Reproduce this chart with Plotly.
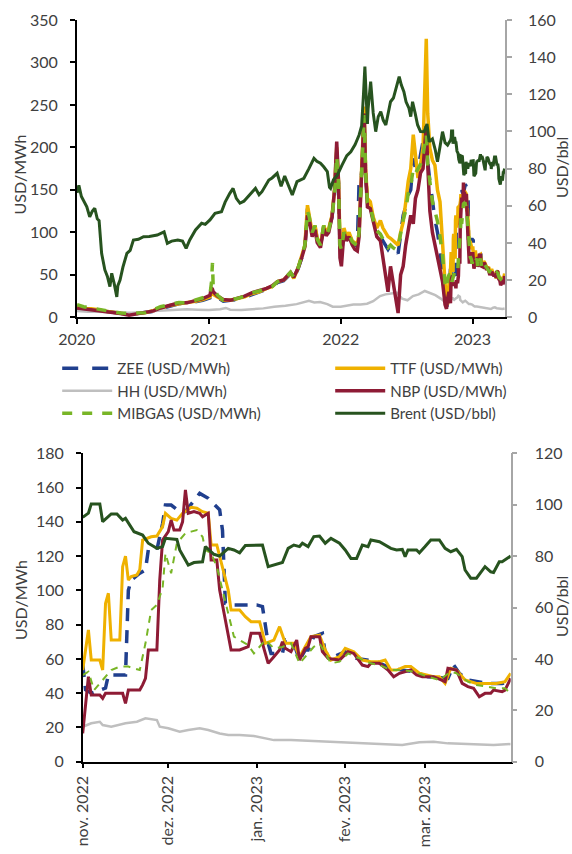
import plotly.graph_objects as go

# ---------------- Upper panel: Jan 2020 - Oct 2022 (daily prices, sampled) ----------------
top_gas_dates = [
    "2020-01-02", "2020-01-20", "2020-02-10", "2020-03-01", "2020-03-20", "2020-04-10",
    "2020-05-01", "2020-05-25", "2020-06-15", "2020-07-10", "2020-08-01", "2020-08-20",
    "2020-09-15", "2020-10-10", "2020-11-01", "2020-11-25", "2020-12-15",
    "2021-01-04", "2021-01-08", "2021-01-11", "2021-01-13", "2021-01-25", "2021-02-10",
    "2021-03-01", "2021-03-20", "2021-04-10", "2021-05-01", "2021-05-20", "2021-06-10",
    "2021-06-25", "2021-07-10", "2021-07-27", "2021-08-15", "2021-08-24", "2021-09-05",
    "2021-09-15", "2021-09-24", "2021-10-01", "2021-10-06", "2021-10-14", "2021-10-22",
    "2021-10-28", "2021-11-06", "2021-11-15", "2021-11-22", "2021-11-29", "2021-12-08",
    "2021-12-15", "2021-12-21", "2021-12-26", "2021-12-30",
    "2022-01-03", "2022-01-10", "2022-01-17", "2022-01-24", "2022-02-02", "2022-02-09",
    "2022-02-16", "2022-02-21", "2022-02-24", "2022-03-02", "2022-03-07", "2022-03-11",
    "2022-03-16", "2022-03-24", "2022-04-01", "2022-04-11", "2022-04-21", "2022-04-28",
    "2022-05-05", "2022-05-12", "2022-05-19", "2022-05-26", "2022-06-02", "2022-06-09",
    "2022-06-16", "2022-06-23", "2022-06-30", "2022-07-07", "2022-07-14", "2022-07-21",
    "2022-07-27", "2022-08-03", "2022-08-10", "2022-08-17", "2022-08-26", "2022-08-30",
    "2022-09-05", "2022-09-12", "2022-09-19", "2022-09-26", "2022-10-03", "2022-10-10",
    "2022-10-17", "2022-10-21", "2022-10-24", "2022-10-28",
]
zee_top = [
    11, 10, 9.5, 8.5, 7, 5.5, 5, 3.5, 4.5, 5.5, 7, 10, 13, 16, 16.5, 18.5, 20,
    23, 28, 27, 26, 23, 19, 20, 21, 23.5, 27, 30, 33, 35, 41, 43, 51, 46, 57,
    70, 82, 128, 115, 100, 106, 92, 84, 107, 100, 104, 118, 145, 195, 155, 85,
    75, 100, 92, 97, 88, 86, 83, 160, 140, 185, 235, 165, 140, 130, 115, 100,
    95, 90, 85, 80, 85, 83, 80, 75, 100, 120, 130, 144, 150, 187, 175, 175,
    191, 207, 218, 183, 160, 136, 115, 100, 80, 50, 18, 8.6, 20, 30,
]
ttf_top = [
    12, 10.5, 10, 9, 7, 6, 5, 3.5, 4.5, 5.5, 8, 11, 14, 16, 17, 19, 21,
    24, 30, 28, 27, 24, 20, 20, 22, 24, 28, 30, 34, 36, 42, 44, 52, 46, 58,
    72, 85, 132, 118, 100, 108, 93, 85, 108, 100, 105, 120, 150, 200, 160, 90,
    75, 105, 95, 100, 90, 88, 85, 100, 136, 195, 248, 175, 140, 136, 118, 105,
    114, 105, 100, 95, 93, 90, 88, 85, 100, 112, 135, 160, 175, 215, 191, 164,
    180, 199, 328, 240, 199, 185, 179, 150, 136, 81, 40, 22, 15, 40,
]
nbp_top = [
    11, 10, 9.5, 8.5, 6.5, 5.5, 4.5, 2.5, 4, 5, 7.5, 11, 14.5, 17, 17, 20, 22,
    26, 35, 33, 30, 25, 21, 20, 22, 25, 29, 31, 34, 37, 42, 44, 53, 47, 58,
    70, 83, 120, 115, 95, 103, 88, 82, 105, 96, 100, 118, 150, 207, 160, 70,
    60, 100, 90, 95, 85, 80, 78, 95, 130, 190, 240, 170, 130, 128, 112, 95,
    90, 70, 50, 30, 60, 40, 25, 5, 50, 60, 85, 100, 120, 110, 140, 150,
    170, 175, 225, 180, 125, 100, 85, 73, 60, 42, 15, 10, 22, 30,
]
mibgas_top = [
    15, 12.5, 11, 9.5, 8, 6.5, 5, 4.5, 4.5, 5.5, 9, 12.5, 15, 17.5, 17, 20, 23,
    27, 40, 64, 35, 26, 20, 21, 22, 25, 29, 31, 34, 36, 42, 44, 53, 47, 58,
    72, 85, 125, 118, 100, 108, 92, 85, 108, 98, 103, 118, 145, 190, 158, 85,
    80, 100, 95, 98, 89, 86, 84, 100, 132, 188, 238, 170, 135, 130, 115, 102,
    98, 92, 85, 82, 85, 82, 80, 82, 100, 115, 125, 146, 155, 175, 170, 175,
    180, 191, 215, 180, 160, 136, 125, 113, 95, 73, 40, 34, 45, 50,
]

hh_top_dates = [
    "2020-01-02", "2020-02-01", "2020-03-01", "2020-04-01", "2020-05-01", "2020-06-01",
    "2020-07-01", "2020-08-01", "2020-09-01", "2020-10-01", "2020-11-01", "2020-12-01",
    "2021-01-01", "2021-02-01", "2021-02-17", "2021-03-01", "2021-04-01", "2021-05-01",
    "2021-06-01", "2021-07-01", "2021-08-01", "2021-09-01", "2021-09-20", "2021-10-05",
    "2021-10-20", "2021-11-05", "2021-11-25", "2021-12-10", "2022-01-01", "2022-01-20",
    "2022-02-05", "2022-02-25", "2022-03-15", "2022-04-01", "2022-04-20", "2022-05-05",
    "2022-05-20", "2022-06-05", "2022-06-20", "2022-07-05", "2022-07-20", "2022-08-05",
    "2022-08-22", "2022-09-05", "2022-09-20", "2022-10-05", "2022-10-20", "2022-10-28",
]
hh_top = [
    7.5, 6.5, 6.5, 5.8, 5.5, 5.5, 6, 7.5, 8, 9, 9.5, 9,
    8.5, 9.5, 11, 9, 8.5, 9.5, 10.5, 12.5, 13.5, 15.5, 17.5, 19.5,
    17.5, 18, 15.5, 12.5, 12.5, 14, 15, 15, 16, 19, 25, 27,
    28, 29, 22, 20, 25, 27, 31, 29, 26, 22, 17, 18,
]

brent_top_dates = [
    "2020-01-02", "2020-01-07", "2020-01-14", "2020-01-22", "2020-01-29", "2020-02-06",
    "2020-02-13", "2020-02-20", "2020-02-27", "2020-03-03", "2020-03-10", "2020-03-19",
    "2020-03-26", "2020-04-02", "2020-04-07", "2020-04-14", "2020-04-21", "2020-04-24",
    "2020-04-30", "2020-05-08", "2020-05-19", "2020-05-28", "2020-06-06", "2020-06-20",
    "2020-07-04", "2020-07-20", "2020-08-11", "2020-08-30", "2020-09-08", "2020-09-20",
    "2020-10-07", "2020-10-20", "2020-10-30", "2020-11-09", "2020-11-25", "2020-12-12",
    "2020-12-22", "2021-01-04", "2021-01-18", "2021-02-05", "2021-02-15", "2021-02-28",
    "2021-03-09", "2021-03-18", "2021-03-28", "2021-04-08", "2021-04-20", "2021-05-10",
    "2021-05-20", "2021-05-28", "2021-06-16", "2021-06-25", "2021-07-09", "2021-07-20",
    "2021-07-30", "2021-08-10", "2021-08-20", "2021-09-02", "2021-09-21", "2021-10-05",
    "2021-10-19", "2021-10-27", "2021-11-06", "2021-11-15", "2021-11-25", "2021-12-01",
    "2021-12-04", "2021-12-12", "2021-12-23", "2022-01-05", "2022-01-18", "2022-01-29",
    "2022-02-10", "2022-02-21", "2022-02-28", "2022-03-05", "2022-03-09", "2022-03-16",
    "2022-03-18", "2022-03-25", "2022-04-01", "2022-04-08", "2022-04-15", "2022-04-22",
    "2022-04-29", "2022-05-06", "2022-05-12", "2022-05-19", "2022-05-27", "2022-06-05",
    "2022-06-12", "2022-06-18", "2022-06-25", "2022-07-01", "2022-07-09", "2022-07-14",
    "2022-07-19", "2022-07-26", "2022-08-02", "2022-08-10", "2022-08-20", "2022-08-28",
    "2022-09-03", "2022-09-12", "2022-09-20", "2022-09-26", "2022-10-03", "2022-10-10",
    "2022-10-17", "2022-10-24", "2022-10-31",
]
brent_top = [
    67, 71, 65, 62, 59.5, 54,
    57, 58.7, 53, 52, 34.4, 25.5,
    22, 16.5, 23.7, 18, 11, 17,
    20, 27, 34.4, 36, 41.6, 42,
    43.4, 43.5, 44.3, 46, 39.8, 41,
    41.6, 41, 37.1, 41.6, 47, 50.6,
    50, 52.4, 56, 56.8, 62, 66.7,
    69.4, 64, 61.4, 62.5, 64.9, 69.4,
    66, 67.6, 73.9, 75, 77.5, 70.5,
    76, 70.3, 65.8, 73, 74.8, 80,
    85.6, 84, 82.9, 81, 78.4, 70,
    69.4, 74, 76.6, 82, 87, 89.1,
    93, 98.1, 103, 119.6, 134.9, 104,
    112.5, 126.8, 110, 99.9, 108, 110.7,
    106, 103.5, 110, 116, 118, 125,
    129.5, 125, 121.4, 116, 112.5, 108,
    116, 110, 103.5, 100, 99.9, 104,
    94.5, 96, 90, 83.7, 92, 99.9,
    94, 92.7, 95,
]

# ---------------- Lower panel: Nov 2022 - Mar 2023 ----------------
zee_dates = [
    "2022-11-01", "2022-11-02", "2022-11-04", "2022-11-07", "2022-11-09", "2022-11-10",
    "2022-11-16", "2022-11-17", "2022-11-18", "2022-11-21", "2022-11-23", "2022-11-24",
    "2022-11-27", "2022-11-29", "2022-11-30", "2022-12-02", "2022-12-05", "2022-12-07",
    "2022-12-12", "2022-12-15", "2022-12-19", "2022-12-20", "2022-12-21", "2022-12-24",
    "2022-12-28", "2023-01-01", "2023-01-03", "2023-01-05", "2023-01-06", "2023-01-10",
    "2023-01-11", "2023-01-14", "2023-01-16", "2023-01-18", "2023-01-19", "2023-01-21",
    "2023-01-24", "2023-01-25", "2023-01-28", "2023-02-01", "2023-02-05", "2023-02-09",
    "2023-02-12", "2023-02-17", "2023-02-22", "2023-02-25", "2023-03-02", "2023-03-07",
    "2023-03-09", "2023-03-11", "2023-03-13", "2023-03-16", "2023-03-19", "2023-03-23",
    "2023-03-28", "2023-03-31",
]
zee_vals = [
    57, 42, 40, 42, 43, 50.6,
    50.6, 100, 106, 110, 112, 123.6,
    123.6, 139, 149.8, 149.8, 146, 146,
    156.6, 153.7, 147, 135, 92.4, 91.5,
    91.5, 91.5, 90.5, 69, 63.2, 63.2,
    71, 69.1, 59.3, 65.2, 65.2, 73,
    74.9, 63.2, 61.3, 64.2, 60.3, 59.3,
    58.4, 54.5, 53.5, 52.5, 49.6, 48.6,
    48.6, 56.4, 51.6, 47.7, 46.7, 45.7,
    45.7, 46.7,
]

ttf_dates = [
    "2022-11-01", "2022-11-03", "2022-11-04", "2022-11-07", "2022-11-08", "2022-11-09",
    "2022-11-10", "2022-11-11", "2022-11-14", "2022-11-15", "2022-11-16", "2022-11-17",
    "2022-11-18", "2022-11-20", "2022-11-21", "2022-11-22", "2022-11-25", "2022-11-27",
    "2022-11-29", "2022-11-30", "2022-12-02", "2022-12-04", "2022-12-06", "2022-12-09",
    "2022-12-11", "2022-12-13", "2022-12-15", "2022-12-16", "2022-12-18", "2022-12-19",
    "2022-12-22", "2022-12-23", "2022-12-26", "2022-12-28", "2022-12-30", "2023-01-02",
    "2023-01-04", "2023-01-07", "2023-01-09", "2023-01-11", "2023-01-14", "2023-01-16",
    "2023-01-18", "2023-01-20", "2023-01-23", "2023-01-25", "2023-01-27", "2023-01-30",
    "2023-02-01", "2023-02-04", "2023-02-07", "2023-02-10", "2023-02-13", "2023-02-15",
    "2023-02-17", "2023-02-19", "2023-02-22", "2023-02-24", "2023-02-27", "2023-03-02",
    "2023-03-04", "2023-03-06", "2023-03-08", "2023-03-10", "2023-03-12", "2023-03-15",
    "2023-03-17", "2023-03-19", "2023-03-23", "2023-03-26", "2023-03-29", "2023-03-31",
]
ttf_vals = [
    53.5, 76.9, 59.3, 59.3, 53.5, 92.4,
    98.3, 71, 71, 113.8, 120, 106,
    108, 109, 112, 129.4, 131.3, 131.7,
    137.2, 145, 142, 141, 145, 148.5,
    147.9, 145.9, 145, 126.5, 126.5, 119.7,
    100.2, 88.5, 88.5, 84.6, 81.7, 81.7,
    69.1, 71, 78.8, 69.1, 69.1, 61.3,
    67.1, 73, 73.9, 65.2, 59.3, 61.3,
    66.2, 64.2, 59.3, 58.4, 58.4, 59.3,
    53.5, 53.5, 55.5, 55.5, 51.6, 50.6,
    49.6, 49.6, 45.7, 54.5, 53.5, 47.7,
    46.7, 45.7, 45.7, 45.7, 46.7, 51.6,
]

hh_dates = [
    "2022-11-01", "2022-11-04", "2022-11-07", "2022-11-08", "2022-11-11", "2022-11-16",
    "2022-11-20", "2022-11-23", "2022-11-27", "2022-11-28", "2022-12-01", "2022-12-05",
    "2022-12-08", "2022-12-12", "2022-12-15", "2022-12-19", "2022-12-22", "2022-12-26",
    "2022-12-31", "2023-01-04", "2023-01-07", "2023-01-13", "2023-01-21", "2023-02-02",
    "2023-02-13", "2023-02-21", "2023-02-27", "2023-03-04", "2023-03-09", "2023-03-18",
    "2023-03-25", "2023-03-31",
]
hh_vals = [
    20.4, 22.4, 23.3, 21.4, 20.4, 22.4,
    23.3, 25.3, 24.3, 20.4, 19.5, 17.5,
    18.5, 19.5, 18.5, 16.5, 15.6, 15.6,
    15, 13.6, 12.6, 12.6, 12, 10.7,
    10.3, 9.7, 11.3, 11.7, 10.7, 10.1,
    9.7, 10.3,
]

nbp_dates = [
    "2022-11-01", "2022-11-03", "2022-11-04", "2022-11-07", "2022-11-08", "2022-11-09",
    "2022-11-15", "2022-11-16", "2022-11-17", "2022-11-21", "2022-11-22", "2022-11-23",
    "2022-11-24", "2022-11-27", "2022-11-28", "2022-11-29", "2022-12-01", "2022-12-02",
    "2022-12-03", "2022-12-05", "2022-12-06", "2022-12-07", "2022-12-08", "2022-12-10",
    "2022-12-12", "2022-12-13", "2022-12-15", "2022-12-16", "2022-12-18", "2022-12-19",
    "2022-12-21", "2022-12-23", "2022-12-26", "2022-12-29", "2022-12-30", "2023-01-02",
    "2023-01-04", "2023-01-05", "2023-01-07", "2023-01-09", "2023-01-10", "2023-01-11",
    "2023-01-13", "2023-01-15", "2023-01-16", "2023-01-18", "2023-01-19", "2023-01-20",
    "2023-01-23", "2023-01-24", "2023-01-26", "2023-01-30", "2023-02-02", "2023-02-04",
    "2023-02-07", "2023-02-09", "2023-02-10", "2023-02-13", "2023-02-16", "2023-02-18",
    "2023-02-20", "2023-02-24", "2023-02-26", "2023-02-28", "2023-03-04", "2023-03-08",
    "2023-03-09", "2023-03-12", "2023-03-14", "2023-03-16", "2023-03-18", "2023-03-20",
    "2023-03-22", "2023-03-24", "2023-03-25", "2023-03-28", "2023-03-29", "2023-03-31",
]
nbp_vals = [
    16.5, 49.6, 38.9, 38.9, 37, 39.9,
    39.9, 34, 41.8, 41.8, 44.8, 48.6,
    65.2, 65.2, 106, 129.4, 134.3, 141,
    135.2, 135.2, 140, 158.6, 145, 146,
    145, 143, 145, 117.7, 117.7, 100.2,
    82.7, 65.2, 65.2, 67.1, 74.9, 74.9,
    63.2, 57.4, 61.3, 65.2, 70, 66.2,
    64.2, 71, 59.3, 66.2, 67.1, 73,
    73, 64.2, 60.3, 59.3, 64.2, 63.2,
    56.4, 55.5, 57.4, 57.4, 53.5, 49.6,
    51.6, 53.5, 50.6, 49.6, 49.6, 46.7,
    54.5, 53.5, 45.7, 43.8, 42.8, 37.9,
    39.9, 39.9, 41.8, 40.9, 41.8, 48.6,
]

mibgas_dates = [
    "2022-11-01", "2022-11-03", "2022-11-05", "2022-11-08", "2022-11-11", "2022-11-14",
    "2022-11-17", "2022-11-19", "2022-11-21", "2022-11-23", "2022-11-25", "2022-11-27",
    "2022-11-29", "2022-11-30", "2022-12-02", "2022-12-04", "2022-12-07", "2022-12-09",
    "2022-12-11", "2022-12-13", "2022-12-14", "2022-12-16", "2022-12-18", "2022-12-20",
    "2022-12-22", "2022-12-24", "2022-12-26", "2022-12-29", "2022-12-31", "2023-01-02",
    "2023-01-04", "2023-01-07", "2023-01-10", "2023-01-13", "2023-01-16", "2023-01-17",
    "2023-01-21", "2023-01-23", "2023-01-27", "2023-01-30", "2023-02-02", "2023-02-06",
    "2023-02-10", "2023-02-13", "2023-02-17", "2023-02-21", "2023-02-25", "2023-03-02",
    "2023-03-06", "2023-03-10", "2023-03-12", "2023-03-16", "2023-03-19", "2023-03-23",
    "2023-03-26", "2023-03-29", "2023-03-31",
]
mibgas_vals = [
    50.6, 52.5, 41.8, 47.7, 53.5, 55.5,
    55.5, 54.5, 53.5, 69.1, 88.5, 91.5,
    101.2, 121.6, 110, 127.5, 133.3, 134.3,
    135.2, 131.3, 123.6, 121.6, 113.8, 100.2,
    86.6, 73, 71, 68.1, 63.2, 67.1,
    71, 66.2, 67, 69.1, 57.4, 59.3,
    67.1, 69.1, 57.4, 58.4, 63.2, 60.3,
    57.4, 56.4, 53.5, 53.5, 52.5, 49.6,
    47.7, 52.5, 51.6, 46.7, 44.8, 43.8,
    42.8, 42.8, 39.9,
]

brent_dates = [
    "2022-11-01", "2022-11-03", "2022-11-04", "2022-11-07", "2022-11-08", "2022-11-11",
    "2022-11-13", "2022-11-15", "2022-11-16", "2022-11-19", "2022-11-22", "2022-11-24",
    "2022-11-27", "2022-11-29", "2022-11-30", "2022-12-04", "2022-12-05", "2022-12-08",
    "2022-12-10", "2022-12-13", "2022-12-14", "2022-12-17", "2022-12-19", "2022-12-22",
    "2022-12-24", "2022-12-26", "2022-12-28", "2022-12-31", "2023-01-03", "2023-01-05",
    "2023-01-07", "2023-01-10", "2023-01-12", "2023-01-14", "2023-01-16", "2023-01-17",
    "2023-01-19", "2023-01-21", "2023-01-23", "2023-01-25", "2023-01-27", "2023-01-30",
    "2023-02-01", "2023-02-03", "2023-02-05", "2023-02-07", "2023-02-09", "2023-02-10",
    "2023-02-13", "2023-02-17", "2023-02-19", "2023-02-21", "2023-02-22", "2023-02-23",
    "2023-02-26", "2023-02-27", "2023-03-01", "2023-03-03", "2023-03-06", "2023-03-08",
    "2023-03-10", "2023-03-12", "2023-03-14", "2023-03-15", "2023-03-17", "2023-03-19",
    "2023-03-22", "2023-03-24", "2023-03-25", "2023-03-27", "2023-03-28", "2023-03-31",
]
brent_vals = [
    95.1, 96.7, 100.3, 100.3, 93.4, 96.4,
    96.4, 94, 94.7, 89.5, 88.2, 85,
    83, 83.7, 86.9, 86.5, 82.4, 76.5,
    77.5, 77.8, 83.7, 80.7, 80, 83,
    82.4, 81.3, 84.1, 84.3, 84.3, 75.9,
    76.5, 77.5, 83, 84.3, 83.7, 85,
    83.7, 87.6, 87.8, 85, 86.9, 85,
    82.4, 79.1, 79.1, 84.3, 83.7, 86.3,
    85.6, 83, 82.4, 82.6, 79.8, 82.4,
    82.4, 81.3, 83.7, 86.3, 86.3, 83,
    81.7, 82.6, 79.8, 74.6, 71.4, 71.4,
    75.9, 73.9, 73.6, 77.8, 77.8, 80,
]

# Axis ticks
year_ticks = ["2020-01-01", "2021-01-01", "2022-01-01", "2023-01-01"]
year_labels = ["2020", "2021", "2022", "2023"]
month_ticks = ["2022-11-01", "2022-12-01", "2023-01-01", "2023-02-01", "2023-03-01"]
month_labels = ["nov. 2022", "dez. 2022", "jan. 2023", "fev. 2023", "mar. 2023"]

# ---------------- Styling ----------------
FONT = "Lato"
TXT = "#404040"
W, H = 572, 854

series = [
    # name, colour, dash (top), width (top), dash (bottom), width (bottom)
    ("ZEE (USD/MWh)", "#203F8E", "16px,14px", 3.5, "13px,9px", 3.5),
    ("TTF (USD/MWh)", "#EFB100", "solid", 3.5, "solid", 3),
    ("HH (USD/MWh)", "#BFBFBF", "solid", 2.5, "solid", 2.5),
    ("NBP (USD/MWh)", "#8E1B35", "solid", 3.5, "solid", 3),
    ("MIBGAS (USD/MWh)", "#78B526", "10px,10px", 3.5, "7px,6px", 2),
    ("Brent (USD/bbl)", "#27531F", "solid", 3, "solid", 3),
]

top_x = [
    top_gas_dates + zee_dates,
    top_gas_dates + ttf_dates,
    hh_top_dates + hh_dates,
    top_gas_dates + nbp_dates,
    top_gas_dates + mibgas_dates,
    brent_top_dates + brent_dates,
]
top_y = [
    zee_top + zee_vals,
    ttf_top + ttf_vals,
    hh_top + hh_vals,
    nbp_top + nbp_vals,
    mibgas_top + mibgas_vals,
    brent_top + brent_vals,
]
bot_x = [zee_dates, ttf_dates, hh_dates, nbp_dates, mibgas_dates, brent_dates]
bot_y = [zee_vals, ttf_vals, hh_vals, nbp_vals, mibgas_vals, brent_vals]

fig = go.Figure()

for i, (name, color, dash_t, w_t, dash_b, w_b) in enumerate(series):
    is_brent = name.startswith("Brent")
    fig.add_trace(go.Scatter(
        x=top_x[i], y=top_y[i], name=name, mode="lines",
        line=dict(color=color, width=w_t, dash=dash_t),
        xaxis="x", yaxis="y2" if is_brent else "y",
        showlegend=True,
    ))

for i, (name, color, dash_t, w_t, dash_b, w_b) in enumerate(series):
    is_brent = name.startswith("Brent")
    fig.add_trace(go.Scatter(
        x=bot_x[i], y=bot_y[i], name=name, mode="lines",
        line=dict(color=color, width=w_b, dash=dash_b),
        xaxis="x2", yaxis="y4" if is_brent else "y3",
        showlegend=False,
    ))

tickfont = dict(family=FONT, size=16, color=TXT)


def axis_style(line_color, standoff):
    return dict(
        showline=True, linecolor=line_color, linewidth=1.5,
        ticks="outside", ticklen=5, tickwidth=1.5, tickcolor=line_color,
        showgrid=False, zeroline=False, tickfont=tickfont,
        ticklabelstandoff=standoff, fixedrange=True, automargin=False,
    )


top_xd = [76.7 / W, 505 / W]
top_yd = [(H - 317.3) / H, (H - 20) / H]
bot_xd = [82.7 / W, 510.7 / W]
bot_yd = [(H - 761.7) / H, (H - 453.3) / H]

fig.update_layout(
    width=W, height=H,
    margin=dict(l=0, r=0, t=0, b=0, autoexpand=False),
    paper_bgcolor="white", plot_bgcolor="white",
    font=dict(family=FONT, size=16, color=TXT),
    xaxis=dict(**axis_style("#000000", 2), type="date", domain=top_xd, anchor="y",
               range=["2020-01-01", "2023-04-01"], tickmode="array",
               tickvals=year_ticks, ticktext=year_labels, tickangle=0),
    yaxis=dict(**axis_style("#000000", 9), domain=top_yd, anchor="x",
               range=[0, 350], dtick=50, tick0=0),
    yaxis2=dict(**axis_style("#A6A6A6", 13), overlaying="y", side="right", anchor="x",
                range=[0, 160], dtick=20, tick0=0),
    xaxis2=dict(**axis_style("#000000", 1), type="date", domain=bot_xd, anchor="y3",
                range=["2022-11-01", "2023-03-31"], tickmode="array",
                tickvals=month_ticks, ticktext=month_labels, tickangle=-90),
    yaxis3=dict(**axis_style("#000000", 9), domain=bot_yd, anchor="x2",
                range=[0, 180], dtick=20, tick0=0),
    yaxis4=dict(**axis_style("#A6A6A6", 14), overlaying="y3", side="right", anchor="x2",
                range=[0, 120], dtick=20, tick0=0),
    legend=dict(
        orientation="h", x=0.1, y=(H - 352) / H, xanchor="left", yanchor="top",
        entrywidth=208, entrywidthmode="pixels", itemwidth=50,
        font=dict(family=FONT, size=15, color=TXT),
        bgcolor="rgba(0,0,0,0)", traceorder="normal",
    ),
    showlegend=True,
)

titles = [
    ("USD/MWh", 18.5, 175),
    ("USD/bbl", 561, 168),
    ("USD/MWh", 20, 600),
    ("USD/bbl", 561, 607),
]
for text, px, py in titles:
    fig.add_annotation(
        text=text, x=px / W, y=(H - py) / H, xref="paper", yref="paper",
        showarrow=False, textangle=-90, xanchor="center", yanchor="middle",
        font=dict(family=FONT, size=16, color=TXT),
    )

fig.write_html("out.html")
